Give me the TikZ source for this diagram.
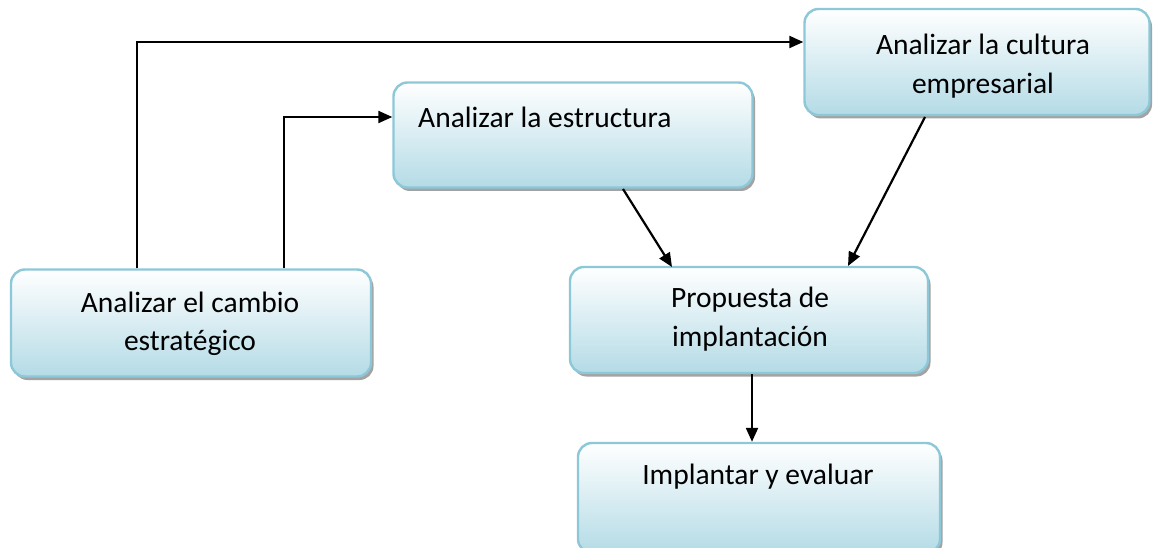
\documentclass[tikz,border=0pt]{standalone}
\usepackage{fontspec}
\setmainfont{Carlito}
\usetikzlibrary{shadows,arrows.meta}
\definecolor{boxedge}{RGB}{140,200,216}
\definecolor{boxbottom}{RGB}{180,219,230}
\tikzset{
  box/.style={draw=boxedge, line width=2.4pt, rounded corners=14pt,
    top color=white, bottom color=boxbottom,
    drop shadow={shadow xshift=2.5pt, shadow yshift=-3.5pt, fill=black!45, opacity=0.8},
    align=center, inner sep=0pt},
  txt/.style={font=\fontsize{29.5}{38.5}\selectfont, align=center, inner sep=0pt},
  conn/.style={line width=2.2pt, -{Triangle[length=14pt,width=12pt]}},
  seg/.style={line width=2.2pt}
}
\begin{document}
\begin{tikzpicture}[x=1pt,y=-1pt]
\useasboundingbox (0,0) rectangle (1157,548);
% boxes
\node[box, minimum width=360pt, minimum height=107pt] (cambio) at (191,323) {};
\node[box, minimum width=359pt, minimum height=105pt] (estr) at (573,135) {};
\node[box, minimum width=345pt, minimum height=106pt] (cult) at (977,62) {};
\node[box, minimum width=358pt, minimum height=106pt] (prop) at (749,320) {};
\node[box, minimum width=362pt, minimum height=110pt] (impl) at (759,498) {};
% texts
\node[txt] (tcambio) at (190,324) {Analizar el cambio\\estratégico};
\node[txt, anchor=west] (testr) at (418,117) {Analizar la estructura};
\node[txt] (tcult) at (983,66) {Analizar la cultura\\empresarial};
\node[txt] (tprop) at (750,319) {Propuesta de\\implantación};
\node[txt] (timpl) at (758,477) {Implantar y evaluar};
% connectors
\coordinate (c1a) at (137,42);
\coordinate (c2a) at (284,117);
\draw[conn] (cambio.north -| c1a) -- (c1a) -- (cult.west |- c1a);
\draw[conn] (cambio.north -| c2a) -- (c2a) -- (estr.west |- c2a);
\coordinate (e1) at (623,189);
\coordinate (e2) at (672,267);
\draw[conn] (e1) -- (e2);
\coordinate (f1) at (925,117);
\coordinate (f2) at (848,266);
\draw[conn] (f1) -- (f2);
\draw[conn] (prop.south -| 752,0) -- (impl.north -| 752,0);
\end{tikzpicture}
\end{document}
